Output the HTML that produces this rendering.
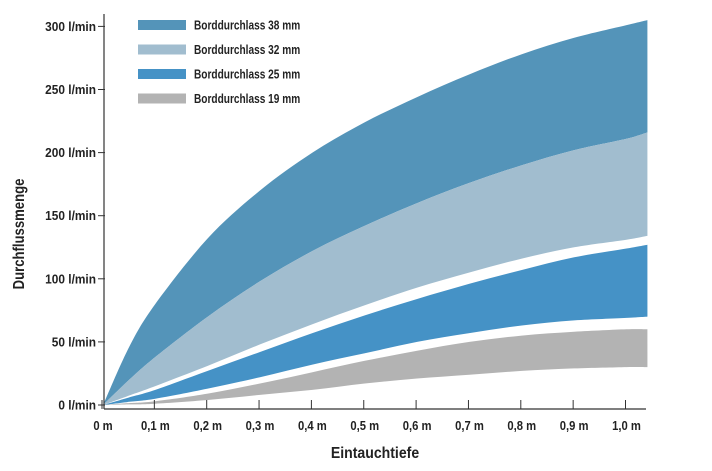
<!DOCTYPE html>
<html><head><meta charset="utf-8"><style>
body{margin:0;background:#fff;}
svg{display:block;font-family:"Liberation Sans",sans-serif;}
</style></head><body>
<svg id="chart" width="712" height="471" viewBox="0 0 712 471" xmlns="http://www.w3.org/2000/svg">
<g id="bands"></g><g id="axes"></g><g id="legend"></g>
</svg>
<script>
const xs = [0,0.05,0.1,0.2,0.3,0.4,0.5,0.6,0.7,0.8,0.9,1.0,1.04];
const top38 = [0,46,80,132,170,200,224,244,262,278,291,301,305];
const top32 = [0,20,38,70,98,122,142,160,176,190,202,211,216];
const bot32 = [0,7.5,15,31,48,64,79,93,105,116,125,131,134];
const top25 = [0,6,12,27,42,57,71,84,96,107,117,124,127];
const bot25 = [0,2.5,5,13,22,32,41,50,57,63,67,69,70];
const top19 = [0,1.5,3,9,17,26,35,43,50,55,58,60,60];
const bot19 = [0,0.5,1,4,8,12,17,21,24,27,29,30,30];
const xTicks = [0,0.1,0.2,0.3,0.4,0.5,0.6,0.7,0.8,0.9,1.0];
const xTickLabels = ["0 m","0,1 m","0,2 m","0,3 m","0,4 m","0,5 m","0,6 m","0,7 m","0,8 m","0,9 m","1,0 m"];
const yTicks = [0,50,100,150,200,250,300];
const yTickLabels = ["0 l/min","50 l/min","100 l/min","150 l/min","200 l/min","250 l/min","300 l/min"];
const legendLabels = ["Borddurchlass 38 mm","Borddurchlass 32 mm","Borddurchlass 25 mm","Borddurchlass 19 mm"];

const NS="http://www.w3.org/2000/svg";
const X = v => 103 + v*523.5;
const Y = v => 405 - v*1.262;
function mk(t,parent){const e=document.createElementNS(NS,t);parent.appendChild(e);return e;}
function curve(vals,rev){
  let pts = xs.map((x,i)=>[X(x),Y(vals[i])]);
  if(rev) pts = pts.slice().reverse();
  let d = "";
  for(let i=0;i<pts.length-1;i++){
    const p0=pts[Math.max(0,i-1)],p1=pts[i],p2=pts[i+1],p3=pts[Math.min(pts.length-1,i+2)];
    const c1=[p1[0]+(p2[0]-p0[0])/6,p1[1]+(p2[1]-p0[1])/6];
    const c2=[p2[0]-(p3[0]-p1[0])/6,p2[1]-(p3[1]-p1[1])/6];
    d+=` C${c1[0].toFixed(1)},${c1[1].toFixed(1)} ${c2[0].toFixed(1)},${c2[1].toFixed(1)} ${p2[0].toFixed(1)},${p2[1].toFixed(1)}`;
  }
  return {start:pts[0],d};
}
function band(up,lo,color,name){
  const a=curve(up,false), b=curve(lo,true);
  const p=mk("path",document.getElementById("bands"));
  p.setAttribute("d",`M${a.start[0]},${a.start[1]}${a.d} L${b.start[0]},${b.start[1]}${b.d} Z`);
  p.setAttribute("fill",color);
  
  
}
band(top38,top32,"#5494b9","band-38mm");
band(top32,bot32,"#a1bdcf","band-32mm");
band(top25,bot25,"#4592c6","band-25mm");
band(top19,bot19,"#b3b3b3","band-19mm");

const ax=document.getElementById("axes");
let l=mk("line",ax);l.setAttribute("x1",104);l.setAttribute("y1",14);l.setAttribute("x2",104);l.setAttribute("y2",409);l.setAttribute("stroke","#333");l.setAttribute("stroke-width","1.2");


l=mk("line",ax);l.setAttribute("x1",104);l.setAttribute("y1",409);l.setAttribute("x2",646);l.setAttribute("y2",409);l.setAttribute("stroke","#333");l.setAttribute("stroke-width","1.2");


xTicks.forEach((v,i)=>{
  const t=mk("line",ax);t.setAttribute("x1",X(v)-1);t.setAttribute("x2",X(v)-1);t.setAttribute("y1",400);t.setAttribute("y2",409);t.setAttribute("stroke","#333");
  
  
  const tx=mk("text",ax);tx.textContent=xTickLabels[i];tx.setAttribute("x",X(v));tx.setAttribute("y",430);tx.setAttribute("text-anchor","middle");
  tx.setAttribute("font-size","12.5");tx.setAttribute("font-weight","bold");tx.setAttribute("fill","#222");
  tx.setAttribute("transform",`translate(${X(v)},0) scale(0.9,1) translate(${-X(v)},0)`);
  
  
});
yTicks.forEach((v,i)=>{
  const t=mk("line",ax);t.setAttribute("x1",98);t.setAttribute("x2",105);t.setAttribute("y1",Y(v));t.setAttribute("y2",Y(v));t.setAttribute("stroke","#333");
  
  
  const tx=mk("text",ax);tx.textContent=yTickLabels[i];tx.setAttribute("x",96);tx.setAttribute("y",Y(v)+4.5);tx.setAttribute("text-anchor","end");
  tx.setAttribute("font-size","12.5");tx.setAttribute("font-weight","bold");tx.setAttribute("fill","#222");
  tx.setAttribute("transform","translate(96,0) scale(0.95,1) translate(-96,0)");
  
  
});
let tt=mk("text",ax);tt.textContent="Eintauchtiefe";tt.setAttribute("x",375);tt.setAttribute("y",458);tt.setAttribute("text-anchor","middle");tt.setAttribute("font-size","16");tt.setAttribute("font-weight","bold");tt.setAttribute("fill","#222");
tt.setAttribute("transform","translate(375,0) scale(0.88,1) translate(-375,0)");


tt=mk("text",ax);tt.textContent="Durchflussmenge";tt.setAttribute("x",0);tt.setAttribute("y",0);tt.setAttribute("text-anchor","middle");tt.setAttribute("font-size","16");tt.setAttribute("font-weight","bold");tt.setAttribute("fill","#222");
tt.setAttribute("transform","translate(24,234) rotate(-90) scale(0.82,1)");



const lg=document.getElementById("legend");
const lc=["#5494b9","#a1bdcf","#4592c6","#b3b3b3"];
legendLabels.forEach((s,i)=>{
  const y=20+i*24.5;
  const r=mk("rect",lg);r.setAttribute("x",138);r.setAttribute("y",y);r.setAttribute("width",48);r.setAttribute("height",10);r.setAttribute("fill",lc[i]);
  
  
  const t=mk("text",lg);t.textContent=s;t.setAttribute("x",194);t.setAttribute("y",y+9.5);t.setAttribute("font-size","12.5");t.setAttribute("font-weight","bold");t.setAttribute("fill","#222");
  t.setAttribute("transform","translate(194,0) scale(0.81,1) translate(-194,0)");
  
  
});
</script>
</body></html>
